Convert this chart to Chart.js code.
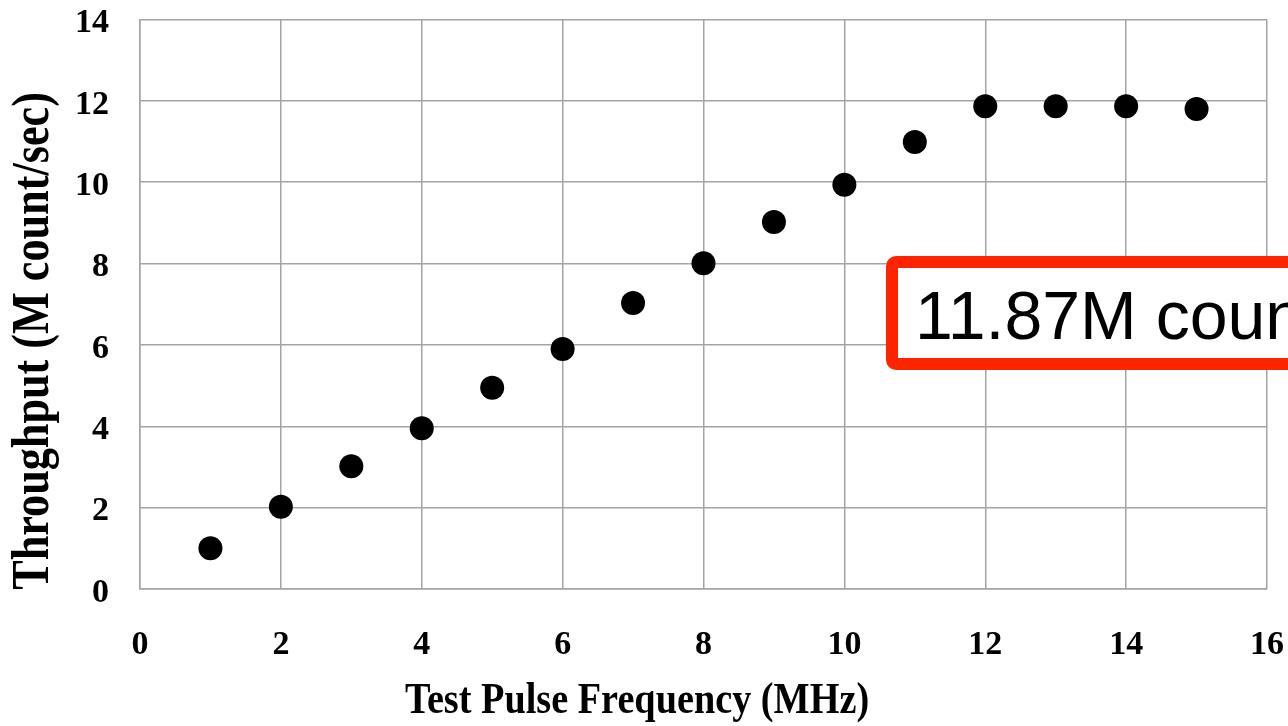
<!DOCTYPE html>
<html>
<head>
<meta charset="utf-8">
<script src="https://cdn.jsdelivr.net/npm/chart.js@4/dist/chart.umd.min.js"></script>
<style>
  html, body { margin: 0; padding: 0; background: #ffffff; }
  #wrap { width: 1288px; height: 726px; position: relative; }
</style>
</head>
<body>
<div id="wrap"><canvas id="c" width="1288" height="726"></canvas></div>
<script>
// ---- data ----
const frequencies = [1, 2, 3, 4, 5, 6, 7, 8, 9, 10, 11, 12, 13, 14, 15];
const throughput = [1.0, 2.02, 3.02, 3.95, 4.95, 5.9, 7.03, 8.01, 9.02, 9.94, 10.99, 11.87, 11.87, 11.87, 11.8];
const xTickValues = [0, 2, 4, 6, 8, 10, 12, 14, 16];
const yTickValues = [0, 2, 4, 6, 8, 10, 12, 14];
const xTitle = 'Test Pulse Frequency (MHz)';
const yTitle = 'Throughput (M count/sec)';
const calloutText = '11.87M count/sec';

const GRID = '#a4a4a4';
const SERIF = '"Liberation Serif", "Times New Roman", serif';

const overlayPlugin = {
  id: 'overlay',
  afterDraw(chart) {
    const ctx = chart.ctx;
    // x axis title (condensed bold serif)
    ctx.save();
    ctx.fillStyle = '#000';
    ctx.font = 'bold 45px ' + SERIF;
    ctx.textAlign = 'center';
    ctx.textBaseline = 'alphabetic';
    ctx.translate(637, 713);
    ctx.scale(0.85, 1);
    ctx.fillText(xTitle, 0, 0);
    ctx.restore();
    // y axis title
    ctx.save();
    ctx.fillStyle = '#000';
    ctx.font = 'bold 52px ' + SERIF;
    ctx.textAlign = 'center';
    ctx.textBaseline = 'alphabetic';
    ctx.translate(48, 341);
    ctx.rotate(-Math.PI / 2);
    ctx.scale(0.85, 1);
    ctx.fillText(yTitle, 0, 0);
    ctx.restore();
    // callout box
    ctx.save();
    ctx.beginPath();
    if (ctx.roundRect) ctx.roundRect(892, 262, 500, 102, 4); else ctx.rect(892, 262, 500, 102);
    ctx.fillStyle = '#ffffff';
    ctx.fill();
    ctx.lineWidth = 12;
    ctx.strokeStyle = '#ff2400';
    ctx.stroke();
    ctx.fillStyle = '#000';
    ctx.font = '68px "Liberation Sans", Arial, sans-serif';
    ctx.textAlign = 'left';
    ctx.textBaseline = 'alphabetic';
    ctx.fillText(calloutText, 915, 339);
    ctx.restore();
  }
};

new Chart(document.getElementById('c'), {
  type: 'scatter',
  data: {
    datasets: [{
      data: frequencies.map((f, i) => ({ x: f, y: throughput[i] })),
      pointRadius: 12,
      pointHoverRadius: 12,
      backgroundColor: '#000000',
      borderWidth: 0
    }]
  },
  options: {
    responsive: false,
    animation: false,
    events: [],
    layout: { padding: { top: 19.5, right: 21, left: 0, bottom: 0 } },
    plugins: { legend: { display: false }, tooltip: { enabled: false } },
    scales: {
      x: {
        type: 'linear',
        min: 0, max: 16,
        afterBuildTicks: (s) => { s.ticks = xTickValues.map(v => ({ value: v })); },
        afterFit: (s) => { s.height = 726 - 589; s.paddingLeft = 0; s.paddingRight = 0; s.paddingTop = 0; s.paddingBottom = 0; },
        ticks: { color: '#000', font: { family: SERIF, size: 34, weight: 'bold', lineHeight: 1 }, padding: 39, maxRotation: 0 },
        grid: { color: GRID, lineWidth: 1.5, drawTicks: false },
        border: { color: GRID, width: 1.5 }
      },
      y: {
        type: 'linear',
        min: 0, max: 14,
        afterBuildTicks: (s) => { s.ticks = yTickValues.map(v => ({ value: v })); },
        afterFit: (s) => { s.width = 140; s.paddingLeft = 0; s.paddingRight = 0; s.paddingTop = 0; s.paddingBottom = 0; },
        ticks: { color: '#000', font: { family: SERIF, size: 34, weight: 'bold', lineHeight: 1 }, padding: 31, labelOffset: 4 },
        grid: { color: GRID, lineWidth: 1.5, drawTicks: false },
        border: { color: GRID, width: 1.5 }
      }
    }
  },
  plugins: [overlayPlugin]
});
</script>
</body>
</html>
